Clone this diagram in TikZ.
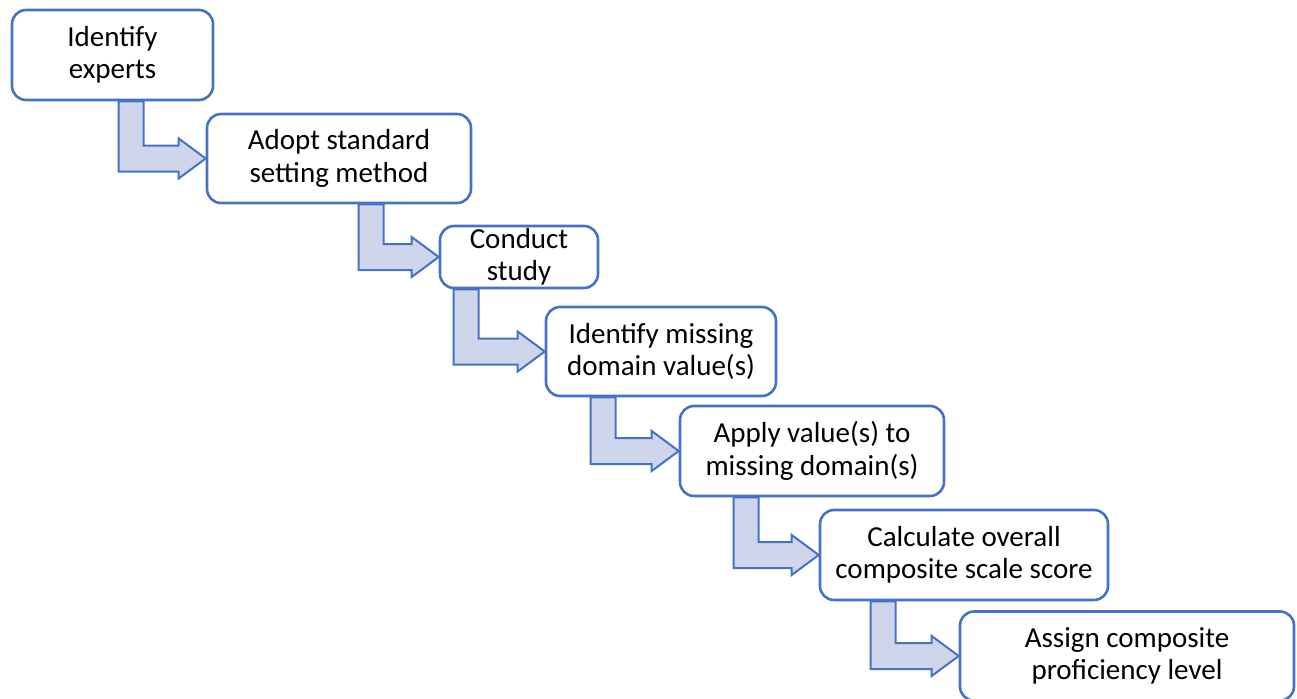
\documentclass[tikz,border=0pt]{standalone}
\usepackage{fontspec}
\setmainfont{Carlito}
\usetikzlibrary{calc}
\definecolor{edgeblue}{HTML}{4472C4}
\definecolor{arrowfill}{HTML}{CFD5EA}
\tikzset{
  stepbox/.style={draw=edgeblue, line width=2.6pt, rounded corners=14pt, fill=white,
    align=center, inner sep=0pt, font=\fontsize{29}{32.5}\selectfont},
  bentarrow/.style={draw=edgeblue, line width=2pt, fill=arrowfill, line join=miter}
}
% L-shaped block arrow from the bottom of #2 into the left side of #3;
% #1 is how far left of #3 the vertical stem starts
\newcommand\bentstep[3][87]{%
  \path[bentarrow] let \p1=(#2.south), \p2=(#3.west) in
    (\x2-#1pt,\y1) -- (\x2-#1pt+25pt,\y1) -- (\x2-#1pt+25pt,\y2+13pt) -- (\x2-27pt,\y2+13pt)
    -- (\x2-27pt,\y2+20pt) -- (\x2,\y2) -- (\x2-27pt,\y2-20pt) -- (\x2-27pt,\y2-13pt)
    -- (\x2-#1pt,\y2-13pt) -- cycle;}
\begin{document}
\begin{tikzpicture}[x=1pt,y=-1pt]
\useasboundingbox (0,0) rectangle (1297,698);
\path
  (112.5,55) node[stepbox, minimum width=201pt, minimum height=90pt] (s1) {Identify\\experts}
  (339,158.5) node[stepbox, minimum width=264pt, minimum height=89pt] (s2) {Adopt standard\\setting method}
  (519,257) node[stepbox, minimum width=158pt, minimum height=62pt] (s3) {Conduct\\study}
  (661,351.5) node[stepbox, minimum width=230pt, minimum height=89pt] (s4) {Identify missing\\domain value(s)}
  (812,451) node[stepbox, minimum width=264pt, minimum height=90pt] (s5) {Apply value(s) to\\missing domain(s)}
  (964,555) node[stepbox, minimum width=288pt, minimum height=90pt] (s6) {Calculate overall\\composite scale score}
  (1127,656) node[stepbox, minimum width=334pt, minimum height=89pt] (s7) {Assign composite\\proficiency level};
\bentstep[87]{s1}{s2}
\bentstep[80]{s2}{s3}
\bentstep[91]{s3}{s4}
\bentstep[88]{s4}{s5}
\bentstep[85]{s5}{s6}
\bentstep[88]{s6}{s7}
\end{tikzpicture}
\end{document}
